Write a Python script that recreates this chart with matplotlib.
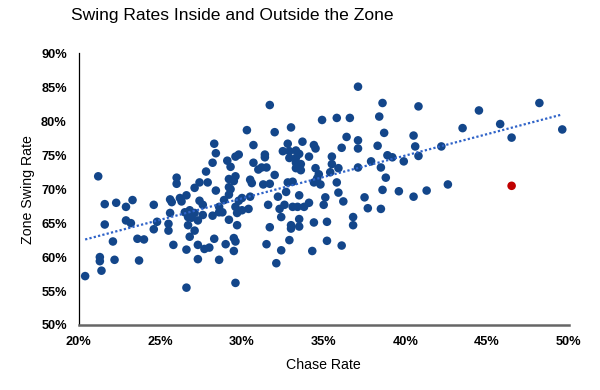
import matplotlib
matplotlib.use("Agg")
import matplotlib.pyplot as plt
import numpy as np

plt.rcParams['font.family'] = ['Liberation Sans', 'DejaVu Sans']

# Chase rate (%) and zone swing rate (%) for each hitter
chase_rate = [
    21.2, 20.4, 21.4, 21.3, 21.3, 22.2, 23.7, 22.1, 21.6, 21.6, 22.3, 22.9, 23.3, 22.9, 23.2, 23.6, 24.0, 24.6, 24.8, 24.6,
    25.6, 25.7, 25.6, 25.5, 25.5, 25.8, 26.6, 26.6, 27.3, 26.2, 26.6, 26.3, 26.8, 26.5, 26.7, 26.9, 27.3, 27.1, 26.7, 27.1,
    26.8, 27.3, 26.0, 26.0, 27.1, 27.4, 27.9, 27.8, 28.2, 28.3, 28.4, 29.1, 29.3, 29.6, 29.8, 29.2, 29.6, 29.5, 29.2, 28.4,
    27.6, 28.2, 27.4, 27.6, 27.7, 28.0, 28.3, 28.6, 29.0, 29.2, 28.6, 28.6, 28.8, 28.9, 29.2, 29.3, 29.6, 29.7, 29.5, 29.5,
    29.6, 29.8, 29.6, 29.7, 30.0, 30.4, 30.0, 30.5, 30.6, 31.3, 31.7, 31.5, 31.7, 31.6, 32.1, 32.4, 32.4, 32.3, 32.6, 32.2,
    32.7, 31.7, 30.3, 32.0, 33.0, 30.7, 32.8, 32.5, 32.9, 31.4, 31.4, 30.7, 31.0, 31.2, 31.5, 32.0, 30.5, 32.8, 33.1, 33.4,
    33.8, 34.1, 33.5, 33.0, 33.0, 33.5, 33.5, 32.9, 34.4, 34.3, 35.2, 35.2, 35.0, 35.1, 35.9, 36.2, 35.8, 36.1, 33.7, 34.4,
    34.5, 33.3, 33.5, 34.1, 35.5, 35.5, 33.3, 33.6, 33.3, 33.6, 34.5, 34.7, 35.4, 35.9, 33.1, 34.4, 34.8, 32.9, 33.3, 34.6,
    37.1, 38.6, 34.9, 35.8, 36.6, 38.4, 38.7, 36.4, 37.1, 36.1, 37.1, 38.3, 38.9, 39.2, 37.9, 37.1, 38.5, 38.8, 38.6, 36.8,
    36.8, 37.5, 37.7, 38.5, 39.6, 40.8, 44.5, 48.2, 43.5, 45.8, 49.6, 46.5, 40.5, 40.6, 42.2, 39.9, 40.8, 42.6, 40.5, 41.3,
]
zone_swing_rate = [
    71.9, 57.2, 58.0, 60.0, 59.4, 59.6, 59.5, 62.3, 64.8, 67.8, 68.0, 67.4, 68.4, 65.4, 65.0, 62.7, 62.6, 67.7, 65.2, 64.1,
    68.5, 68.1, 66.5, 64.9, 63.9, 61.8, 61.1, 55.5, 59.7, 68.7, 69.1, 68.2, 66.9, 66.6, 65.9, 65.8, 65.4, 66.5, 64.7, 63.9,
    63.0, 61.8, 71.7, 70.8, 70.2, 71.0, 71.0, 72.6, 73.9, 76.7, 75.3, 74.2, 73.3, 74.8, 75.1, 71.5, 71.9, 71.2, 70.3, 69.8,
    66.2, 66.1, 68.3, 67.7, 61.2, 61.4, 62.7, 59.6, 61.9, 65.5, 67.4, 66.6, 66.6, 68.4, 69.2, 70.0, 67.4, 66.5, 62.8, 60.9,
    56.2, 68.3, 62.3, 64.7, 66.9, 67.1, 68.7, 68.9, 70.9, 70.7, 70.8, 61.9, 64.4, 67.7, 59.1, 61.0, 65.9, 67.1, 67.7, 68.9,
    69.6, 82.4, 78.7, 78.4, 79.1, 76.5, 76.7, 75.6, 74.6, 75.1, 74.7, 73.9, 72.9, 73.2, 73.2, 72.1, 71.4, 71.0, 67.4, 67.4,
    67.4, 68.0, 69.1, 64.7, 64.2, 65.6, 64.5, 62.5, 65.1, 60.9, 65.2, 62.4, 67.7, 68.8, 69.5, 68.2, 71.0, 61.7, 77.0, 76.5,
    76.0, 75.7, 75.2, 74.8, 74.8, 73.7, 73.9, 73.7, 73.1, 72.8, 73.1, 72.2, 72.5, 73.1, 71.1, 71.0, 70.7, 75.6, 74.6, 71.6,
    85.1, 82.7, 80.2, 80.5, 80.5, 80.7, 78.3, 77.7, 77.2, 76.1, 76.0, 76.4, 75.0, 74.7, 74.1, 73.2, 73.2, 71.7, 69.9, 65.9,
    64.7, 68.8, 67.2, 67.1, 69.7, 82.2, 81.6, 82.7, 79.0, 79.6, 78.8, 77.6, 77.9, 76.3, 76.3, 74.1, 74.9, 70.7, 68.9, 69.8,
]
# Highlighted hitter
highlight_chase = [46.5]
highlight_zone = [70.5]

x_ticks = [20, 25, 30, 35, 40, 45, 50]
y_ticks = [50, 55, 60, 65, 70, 75, 80, 85, 90]

fig = plt.figure(figsize=(6, 3.9), dpi=100)
ax = fig.add_axes([0.131, 0.1667, 0.817, 0.6963])

ax.scatter(chase_rate, zone_swing_rate, s=38, color='#13468a', edgecolors='none', zorder=2)
ax.scatter(highlight_chase, highlight_zone, s=38, color='#c00000', edgecolors='none', zorder=2)

# Linear trendline of the blue series
xs = np.array(chase_rate)
ys = np.array(zone_swing_rate)
m, b = np.polyfit(xs, ys, 1)
xline = np.array([xs.min(), xs.max()])
ax.plot(xline, m * xline + b, linestyle=(0, (1, 1)), color='#2f63c8', linewidth=1.6, zorder=3)

ax.set_xlim(20, 50)
ax.set_ylim(50, 90)
ax.set_xticks(x_ticks)
ax.set_yticks(y_ticks)
ax.set_xticklabels([f"{t}%" for t in x_ticks], fontweight='bold', fontsize=9.2)
ax.set_yticklabels([f"{t}%" for t in y_ticks], fontweight='bold', fontsize=9.2)
ax.tick_params(axis='both', length=0)
ax.tick_params(axis='x', pad=8)
ax.tick_params(axis='y', pad=8.5)

for side in ['top', 'right']:
    ax.spines[side].set_visible(False)
ax.spines['left'].set_color('#000000')
ax.spines['left'].set_linewidth(0.9)
ax.spines['bottom'].set_color('#666666')
ax.spines['bottom'].set_linewidth(1.8)

ax.set_xlabel('Chase Rate', fontsize=10.2, labelpad=7)
ax.set_ylabel('Zone Swing Rate', fontsize=10.2, labelpad=4)

fig.text(0.387, 0.96, 'Swing Rates Inside and Outside the Zone', fontsize=12.6,
         ha='center', va='center')

fig.savefig('out.png', dpi=100)
